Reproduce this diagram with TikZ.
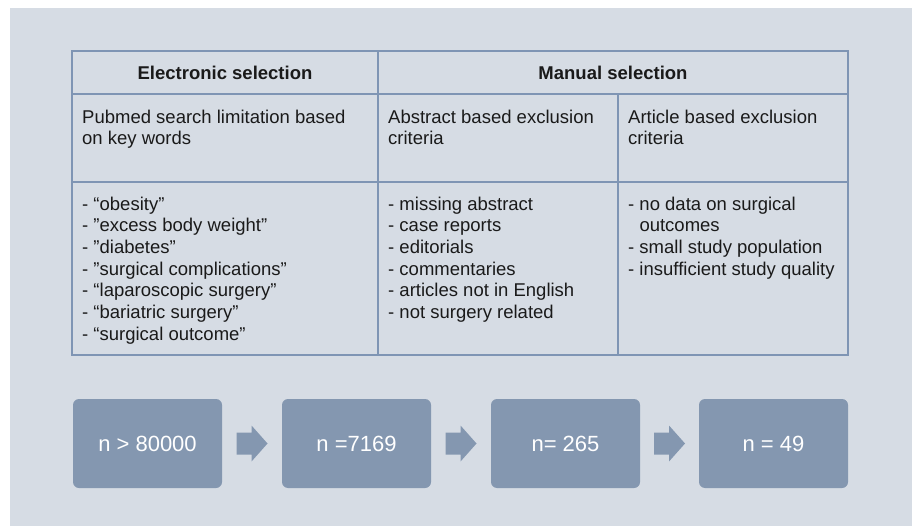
\documentclass[tikz,border=0pt]{standalone}
\usepackage{fontspec}
\setmainfont{Liberation Sans}
\usetikzlibrary{calc}
\definecolor{PanelGray}{HTML}{D6DCE4}
\definecolor{GridBlue}{HTML}{7F95B4}
\definecolor{StepBlue}{HTML}{8497B0}
\definecolor{InkGray}{HTML}{1A1A1A}

\begin{document}
\begin{tikzpicture}[x=1pt, y=-1pt,
    cell/.style={anchor=north west, inner sep=0pt, align=left, text=InkGray,
        font=\fontsize{18.5}{21.7}\selectfont},
    head/.style={anchor=base, inner sep=0pt, text=InkGray,
        font=\fontsize{18.5}{21.7}\selectfont\bfseries},
    count/.style={fill=StepBlue, rounded corners=6pt, minimum width=149pt,
        minimum height=89pt, inner sep=0pt, text=white,
        font=\fontsize{22}{26}\selectfont}]
    % Page and panel
    \useasboundingbox (0,0) rectangle (912,526);
    \fill[PanelGray] (10,8) rectangle (912,526);

    % Table grid
    \draw[GridBlue, line width=2.5pt] (72,51) rectangle (848,355);
    \draw[GridBlue, line width=2.5pt] (72,94) -- (848,94) (72,182) -- (848,182)
        (378,51) -- (378,355) (618,94) -- (618,355);

    % Column headers
    \node[head] (hdrE) at (225,80) {Electronic selection};
    \node[head] (hdrM) at (613,80) {Manual selection};

    % Selection criteria
    \node[cell] (critE) at (82,107.8) {\strut Pubmed search limitation based\\on key words};
    \node[cell] (critA) at (388,107.8) {\strut Abstract based exclusion\\criteria};
    \node[cell] (critR) at (628,107.8) {\strut Article based exclusion\\criteria};

    % Key words and exclusion reasons
    \node[cell] (listE) at (82,194.8) {\strut - “obesity”\\- ”excess body weight”\\- ”diabetes”\\%
        - ”surgical complications”\\- “laparoscopic surgery”\\- “bariatric surgery”\\%
        - “surgical outcome”};
    \node[cell] (listA) at (388,194.8) {\strut - missing abstract\\- case reports\\- editorials\\%
        - commentaries\\- articles not in English\\- not surgery related};
    \node[cell] (listR) at (628,194.8) {\strut - no data on surgical\\\phantom{- }outcomes\\%
        - small study population\\- insufficient study quality};

    % Study counts
    \node[count] (n1) at (147.5,443.5) {n > 80000};
    \node[count] (n2) at (356.5,443.5) {n =7169};
    \node[count] (n3) at (565.5,443.5) {n= 265};
    \node[count] (n4) at (773.5,443.5) {n = 49};

    % Block arrows between counts
    \foreach \a/\b in {n1/n2, n2/n3, n3/n4} {
        \coordinate (m) at ($(\a.east)!0.5!(\b.west)$);
        \fill[StepBlue] ($(m)+(-15.5,-11)$) -- ++(15,0) -- ++(0,-7) -- ++(16,18)
            -- ++(-16,18) -- ++(0,-7) -- ++(-15,0) -- cycle;
    }
\end{tikzpicture}
\end{document}
